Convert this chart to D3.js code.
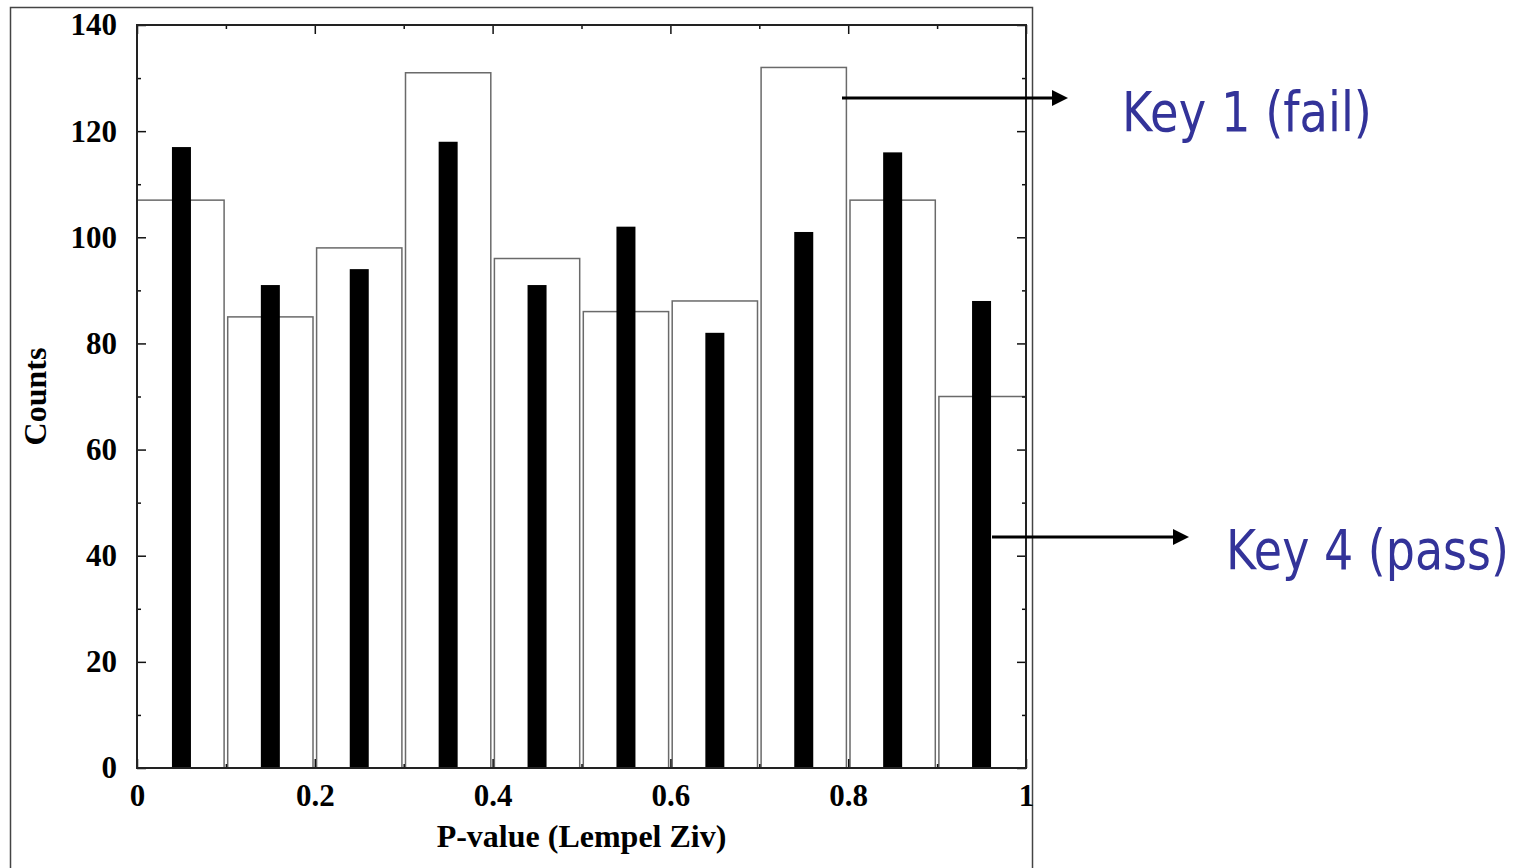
<!DOCTYPE html>
<html lang="en">
<head>
<meta charset="utf-8">
<title>P-value histogram (Lempel Ziv)</title>
<script src="https://cdn.jsdelivr.net/npm/d3@7"></script>
<style>
  body { margin: 0; background: #fff; }
  svg { display: block; }
  .axis text { font-family: "Liberation Serif", "Times New Roman", serif; font-weight: bold; font-size: 31px; fill: #000; }
  .axis line { stroke: #111; stroke-width: 1.5px; }
  .title { font-family: "Liberation Serif", "Times New Roman", serif; font-weight: bold; font-size: 32px; }
  .key { font-family: "DejaVu Sans", Verdana, sans-serif; font-size: 56px; fill: #333399; }
</style>
</head>
<body>
<div id="chart"></div>
<script>
// bin starts (P-value), width 0.1
var bins = [0, 0.1, 0.2, 0.3, 0.4, 0.5, 0.6, 0.7, 0.8, 0.9];
// open bars: Key 1 (fail)
var key1Counts = [107, 85, 98, 131, 96, 86, 88, 132, 107, 70];
// black bars: Key 4 (pass)
var key4Counts = [117, 91, 94, 118, 91, 102, 82, 101, 116, 88];

var xTicks = [0, 0.2, 0.4, 0.6, 0.8, 1];
var xMinor = [0.1, 0.3, 0.5, 0.7, 0.9];
var yTicks = [0, 20, 40, 60, 80, 100, 120, 140];
var yMinor = [10, 30, 50, 70, 90, 110, 130];

var width = 1531, height = 868;
var plot = { left: 137, top: 25, right: 1026, bottom: 768 };

var svg = d3.select("#chart").append("svg")
  .attr("width", width)
  .attr("height", height);

svg.append("rect").attr("width", width).attr("height", height).attr("fill", "#fff");

// outer frame of the figure
svg.append("rect")
  .attr("x", 10.5).attr("y", 7.5)
  .attr("width", 1022).attr("height", 900)
  .attr("fill", "none").attr("stroke", "#444").attr("stroke-width", 1.5);

var x = d3.scaleLinear().domain([0, 1]).range([plot.left, plot.right]);
var y = d3.scaleLinear().domain([0, 140]).range([plot.bottom, plot.top]);

var fmtX = function (d) { return (d === 0 || d === 1) ? String(d) : d.toFixed(1); };

// open bars (first and last sit on the plot border)
var inset = 1.8;
var lastBin = bins[bins.length - 1];
function leftIn(d) { return d === 0 ? 0 : inset; }
function rightIn(d) { return d === lastBin ? 0 : inset; }
svg.append("g").selectAll("rect")
  .data(bins)
  .join("rect")
  .attr("x", function (d) { return x(d) + leftIn(d); })
  .attr("width", function (d) { return x(d + 0.1) - x(d) - leftIn(d) - rightIn(d); })
  .attr("y", function (d, i) { return y(key1Counts[i]); })
  .attr("height", function (d, i) { return y(0) - y(key1Counts[i]); })
  .attr("fill", "#fff")
  .attr("stroke", "#6a6a6a")
  .attr("stroke-width", 1.5);

// black bars centred in each bin
var barW = 19;
svg.append("g").selectAll("rect")
  .data(bins)
  .join("rect")
  .attr("x", function (d) { return x(d + 0.05) - barW / 2; })
  .attr("width", barW)
  .attr("y", function (d, i) { return y(key4Counts[i]); })
  .attr("height", function (d, i) { return y(0) - y(key4Counts[i]); })
  .attr("fill", "#000");

// ticks (all pointing into the plot)
function ticks(axis, vals, size, labels, pad) {
  return axis.tickValues(vals).tickSize(-size).tickPadding(pad || 0)
    .tickFormat(labels ? labels : "");
}

svg.append("g").attr("class", "axis")
  .attr("transform", "translate(" + plot.left + ",0)")
  .call(ticks(d3.axisLeft(y), yTicks, 9, d3.format("d"), 20));
svg.append("g").attr("class", "axis")
  .attr("transform", "translate(" + plot.left + ",0)")
  .call(ticks(d3.axisLeft(y), yMinor, 4));
svg.append("g").attr("class", "axis")
  .attr("transform", "translate(" + plot.right + ",0)")
  .call(ticks(d3.axisRight(y), yTicks, 9));
svg.append("g").attr("class", "axis")
  .attr("transform", "translate(" + plot.right + ",0)")
  .call(ticks(d3.axisRight(y), yMinor, 4));

svg.append("g").attr("class", "axis")
  .attr("transform", "translate(0," + plot.bottom + ")")
  .call(ticks(d3.axisBottom(x), xTicks, 9, fmtX, 16));
svg.append("g").attr("class", "axis")
  .attr("transform", "translate(0," + plot.bottom + ")")
  .call(ticks(d3.axisBottom(x), xMinor, 4));
svg.append("g").attr("class", "axis")
  .attr("transform", "translate(0," + plot.top + ")")
  .call(ticks(d3.axisTop(x), xTicks, 9));
svg.append("g").attr("class", "axis")
  .attr("transform", "translate(0," + plot.top + ")")
  .call(ticks(d3.axisTop(x), xMinor, 4));

svg.selectAll(".axis .domain").remove();

// plot border
svg.append("rect")
  .attr("x", plot.left).attr("y", plot.top)
  .attr("width", plot.right - plot.left).attr("height", plot.bottom - plot.top)
  .attr("fill", "none").attr("stroke", "#222").attr("stroke-width", 2);

// axis titles
svg.append("text").attr("class", "title")
  .attr("x", x(0.5)).attr("y", 847)
  .attr("text-anchor", "middle")
  .text("P-value (Lempel Ziv)");

svg.append("text").attr("class", "title")
  .attr("transform", "translate(46," + y(70) + ") rotate(-90)")
  .attr("text-anchor", "middle")
  .text("Counts");

// annotation arrows and keys
var keys = [
  { label: "Key 1 (fail)", x0: 842, x1: 1068, ay: 98, tx: 1122, ty: 131, tw: 250 },
  { label: "Key 4 (pass)", x0: 992, x1: 1189, ay: 537, tx: 1226, ty: 569, tw: 283 }
];

var ann = svg.append("g");
keys.forEach(function (k) {
  ann.append("line")
    .attr("x1", k.x0).attr("x2", k.x1 - 14)
    .attr("y1", k.ay).attr("y2", k.ay)
    .attr("stroke", "#000").attr("stroke-width", 3);
  ann.append("path")
    .attr("d", "M" + k.x1 + "," + k.ay + "L" + (k.x1 - 16) + "," + (k.ay - 8) + "L" + (k.x1 - 16) + "," + (k.ay + 8) + "Z")
    .attr("fill", "#000");
  // narrow the text horizontally to the width of the Tahoma-like original
  var t = ann.append("text").attr("class", "key").text(k.label);
  var natural = t.node().getComputedTextLength();
  t.attr("transform", "translate(" + k.tx + "," + k.ty + ") scale(" + (k.tw / natural) + ",1)");
});
</script>
</body>
</html>
